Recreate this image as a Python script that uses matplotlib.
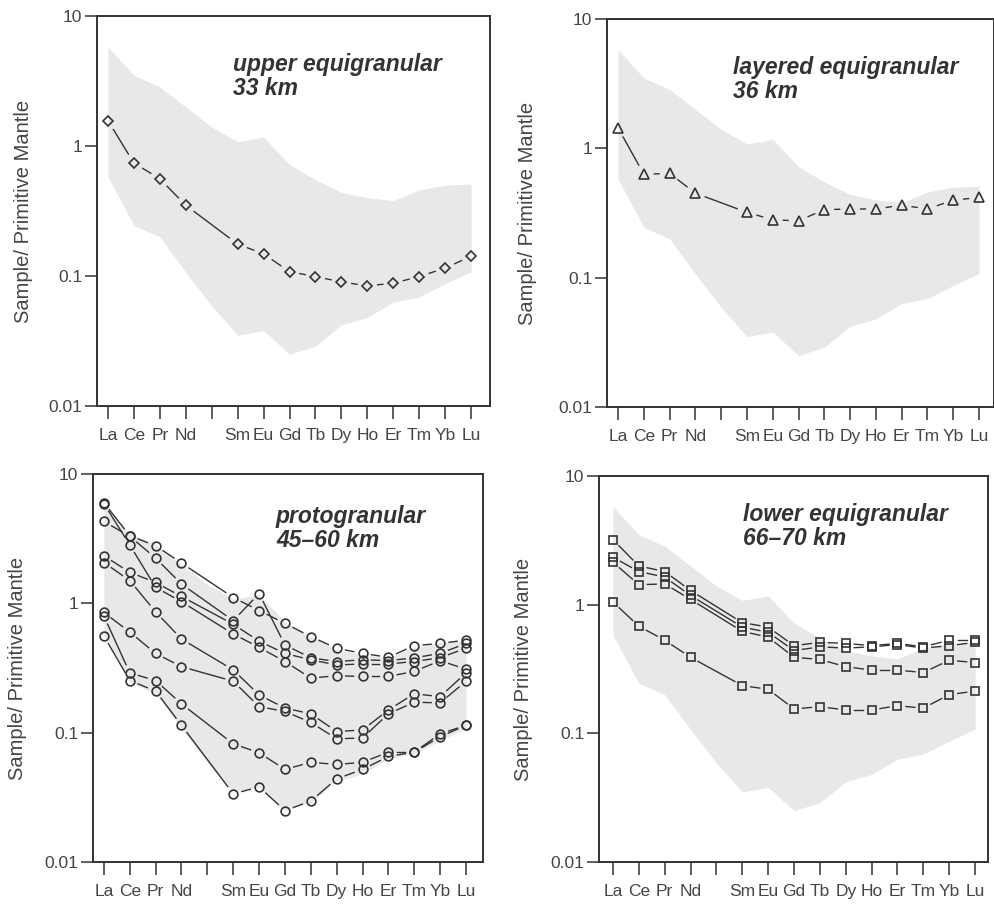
import numpy as np
import matplotlib.pyplot as plt
from matplotlib.ticker import NullLocator

plt.rcParams['font.family'] = ['Liberation Sans', 'DejaVu Sans']

# REE order, Pm kept as an empty slot on the axis
ree_ticks = ['La', 'Ce', 'Pr', 'Nd', '', 'Sm', 'Eu', 'Gd', 'Tb', 'Dy', 'Ho', 'Er', 'Tm', 'Yb', 'Lu']
pos_all = np.arange(15)
pos_meas = np.array([0, 1, 2, 3, 5, 6, 7, 8, 9, 10, 11, 12, 13, 14])

# grey field of all samples (La..Lu incl. Pm slot)
band_hi = [5.8, 3.5, 2.85, 2.0, 1.4, 1.08, 1.17, 0.72, 0.55, 0.44, 0.40, 0.38, 0.46, 0.50, 0.51]
band_lo = [0.58, 0.245, 0.20, 0.107, 0.059, 0.035, 0.038, 0.025, 0.029, 0.042, 0.048, 0.063, 0.069, 0.087, 0.108]

# upper equigranular, 33 km
upper_eq = [1.57, 0.74, 0.56, 0.35, 0.176, 0.148, 0.108, 0.099, 0.090, 0.084, 0.088, 0.099, 0.115, 0.142]

# layered equigranular, 36 km
layered_eq = [1.44, 0.63, 0.64, 0.45, 0.32, 0.28, 0.275, 0.336, 0.339, 0.34, 0.363, 0.34, 0.397, 0.417]

# protogranular, 45-60 km
proto_1 = [6.0, 3.33, 2.79, 2.05, 1.11, 0.88, 0.70, 0.553, 0.45, 0.41, 0.383, 0.471, 0.49, 0.52]
proto_2 = [5.9, 2.83, 1.33, 1.03, 0.58, 0.457, 0.355, 0.264, 0.276, 0.272, 0.272, 0.298, 0.36, 0.31]
proto_3 = [4.3, 3.30, 2.24, 1.41, 0.735, 1.19, 0.477, 0.379, 0.355, 0.366, 0.361, 0.379, 0.41, 0.49]
proto_4 = [2.33, 1.74, 1.45, 1.13, 0.69, 0.51, 0.41, 0.366, 0.334, 0.34, 0.34, 0.355, 0.38, 0.45]
proto_5 = [2.07, 1.50, 0.86, 0.53, 0.306, 0.196, 0.155, 0.14, 0.102, 0.105, 0.150, 0.20, 0.19, 0.29]
proto_6 = [0.85, 0.60, 0.41, 0.324, 0.25, 0.159, 0.146, 0.12, 0.0897, 0.091, 0.14, 0.172, 0.17, 0.25]
proto_7 = [0.80, 0.29, 0.253, 0.167, 0.082, 0.07, 0.052, 0.059, 0.0568, 0.059, 0.0707, 0.0707, 0.098, 0.114]
proto_8 = [0.56, 0.253, 0.21, 0.114, 0.0337, 0.038, 0.025, 0.0296, 0.044, 0.052, 0.0655, 0.0707, 0.093, 0.114]

# lower equigranular, 66-70 km
lower_1 = [3.2, 2.0, 1.81, 1.29, 0.725, 0.67, 0.48, 0.51, 0.50, 0.48, 0.50, 0.47, 0.53, 0.53]
lower_2 = [2.34, 1.81, 1.64, 1.18, 0.67, 0.61, 0.44, 0.47, 0.46, 0.47, 0.49, 0.46, 0.48, 0.51]
lower_3 = [2.14, 1.43, 1.45, 1.10, 0.62, 0.56, 0.39, 0.375, 0.33, 0.31, 0.31, 0.297, 0.37, 0.355]
lower_4 = [1.05, 0.68, 0.53, 0.39, 0.235, 0.22, 0.155, 0.161, 0.152, 0.152, 0.164, 0.157, 0.20, 0.213]

ink = '#333333'
txt = '#454545'
band_col = '#e8e8e8'


def setup(ax, xlim, title, tx, ty, lab_x):
    ax.set_yscale('log')
    ax.set_ylim(0.01, 10)
    ax.set_xlim(*xlim)
    ax.fill_between(pos_all, band_lo, band_hi, color=band_col, lw=0, zorder=1)
    ax.set_xticks(pos_all)
    ax.set_xticklabels(ree_ticks)
    ax.set_yticks([0.01, 0.1, 1, 10])
    ax.set_yticklabels(['0.01', '0.1', '1', '10'])
    ax.yaxis.set_minor_locator(NullLocator())
    ax.tick_params(axis='x', direction='out', length=9, width=1.1, pad=7,
                   labelsize=12.5, colors=ink, labelcolor=txt)
    ax.tick_params(axis='y', direction='out', length=9, width=1.1, pad=1.5,
                   labelsize=12.5, colors=ink, labelcolor=txt)
    for s in ax.spines.values():
        s.set_color(ink)
        s.set_linewidth(1.4)
    ax.set_ylabel('Sample/ Primitive Mantle', fontsize=14.5, color=txt)
    ax.yaxis.set_label_coords(lab_x, 0.5)
    ax.text(tx, ty, title, transform=ax.transAxes, fontsize=16.5, fontweight='bold',
            fontstyle='italic', color=ink, va='top', ha='left', linespacing=1.05)


def series(ax, vals, marker, ms, gap):
    # open markers; each connecting segment stops short of the symbols
    ax.plot(pos_meas, vals, ls='none', marker=marker, ms=ms, mfc='none',
            mec=ink, mew=1.2, zorder=4)
    pts = ax.transData.transform(np.column_stack([pos_meas, vals]))
    inv = ax.transData.inverted()
    for p, q in zip(pts[:-1], pts[1:]):
        d = q - p
        L = np.hypot(d[0], d[1])
        if L <= 2 * gap + 2:
            continue
        u = d / L
        seg = inv.transform([p + u * gap, q - u * gap])
        ax.plot(seg[:, 0], seg[:, 1], color=ink, lw=1.0, zorder=3)


fig = plt.figure(figsize=(9.95, 9.05), dpi=100)

ax1 = fig.add_axes([0.0975, 0.5514, 0.395, 0.4309])
setup(ax1, (-0.42, 14.73), 'upper equigranular\n33 km', 0.346, 0.905, -0.163)
series(ax1, upper_eq, 'D', 5, 10.5)

ax2 = fig.add_axes([0.610, 0.5503, 0.389, 0.4287])
setup(ax2, (-0.43, 14.58), 'layered equigranular\n36 km', 0.326, 0.905, -0.181)
series(ax2, layered_eq, '^', 7.5, 10.5)

ax3 = fig.add_axes([0.0935, 0.0475, 0.392, 0.4287])
setup(ax3, (-0.42, 14.66), 'protogranular\n45\u201360 km', 0.469, 0.92, -0.169)
for v in [proto_1, proto_2, proto_3, proto_4, proto_5, proto_6, proto_7, proto_8]:
    series(ax3, v, 'o', 6.3, 9)

ax4 = fig.add_axes([0.602, 0.0475, 0.391, 0.4265])
setup(ax4, (-0.54, 14.5), 'lower equigranular\n66\u201370 km', 0.37, 0.93, -0.17)
for v in [lower_1, lower_2, lower_3, lower_4]:
    series(ax4, v, 's', 5.2, 8.5)

fig.savefig('out.png', dpi=100)
